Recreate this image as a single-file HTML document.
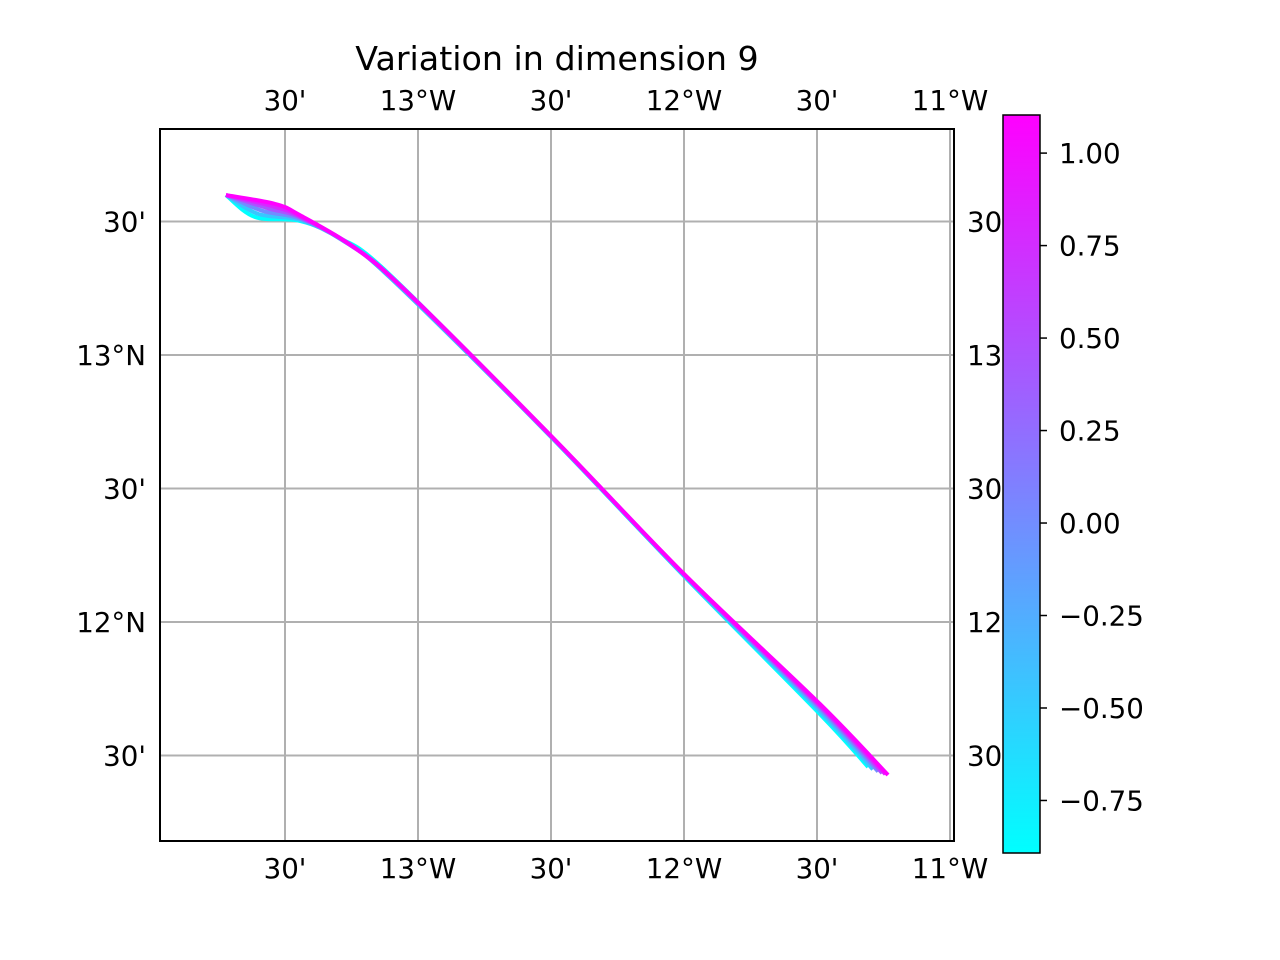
<!DOCTYPE html>
<html><head><meta charset="utf-8"><style>body{margin:0;background:#fff}svg{display:block;font-family:"DejaVu Sans","Liberation Sans",sans-serif}</style></head>
<body>
<svg id="c" width="1280" height="960"></svg>
<script>
const xTicks=[-13.5,-13,-12.5,-12,-11.5,-11];
const xTickLabels=["30'","13°W","30'","12°W","30'","11°W"];
const yTicks=[13.5,13,12.5,12,11.5];
const yTickLabels=["30'","13°N","30'","12°N","30'"];
const cbTicks=[1,0.75,0.5,0.25,0,-0.25,-0.5,-0.75];
const cbTickLabels=["1.00","0.75","0.50","0.25","0.00","−0.25","−0.50","−0.75"];
const trackValues=[-0.89,-0.45,0,0.45,0.8,1.1];
const trackLons=[
[-13.722,-13.613,-13.444,-13.293,-13.105,-12.5,-12.0,-11.489,-11.308],
[-13.722,-13.600,-13.444,-13.285,-13.100,-12.5,-12.0,-11.489,-11.290],
[-13.722,-13.585,-13.444,-13.270,-13.080,-12.5,-12.0,-11.489,-11.270],
[-13.722,-13.565,-13.444,-13.260,-13.060,-12.5,-12.0,-11.489,-11.255],
[-13.722,-13.550,-13.444,-13.250,-13.045,-12.5,-12.0,-11.489,-11.243],
[-13.722,-13.538,-13.444,-13.237,-13.030,-12.5,-12.0,-11.489,-11.233]];
const trackLats=[
[13.599,13.517,13.502,13.438,13.300,12.693,12.172,11.655,11.457],
[13.599,13.528,13.506,13.430,13.285,12.694,12.174,11.665,11.448],
[13.599,13.540,13.511,13.423,13.270,12.695,12.176,11.675,11.440],
[13.599,13.550,13.516,13.415,13.255,12.696,12.178,11.683,11.434],
[13.599,13.558,13.520,13.410,13.240,12.697,12.179,11.688,11.430],
[13.599,13.566,13.524,13.401,13.225,12.697,12.180,11.693,11.427]];
const NS="http://www.w3.org/2000/svg",svg=document.getElementById('c');
const X=v=>418+(v+13)*266, Y=v=>355-(v-13)*267;
const cbMin=-0.892,cbMax=1.103,CY=v=>853-(v-cbMin)/(cbMax-cbMin)*738;
function mk(t,a,p){const e=document.createElementNS(NS,t);for(const k in a)e.setAttribute(k,a[k]);(p||svg).appendChild(e);return e;}
function col(v){const f=(v-cbMin)/(cbMax-cbMin);return `rgb(${Math.round(255*f)},${Math.round(255*(1-f))},255)`;}
function smooth(pts){let d='M'+pts[0][0]+','+pts[0][1];
 for(let i=0;i<pts.length-1;i++){const p0=pts[Math.max(0,i-1)],p1=pts[i],p2=pts[i+1],p3=pts[Math.min(pts.length-1,i+2)];
  const c1=[p1[0]+(p2[0]-p0[0])/6,p1[1]+(p2[1]-p0[1])/6],c2=[p2[0]-(p3[0]-p1[0])/6,p2[1]-(p3[1]-p1[1])/6];
  d+=`C${c1[0]},${c1[1]} ${c2[0]},${c2[1]} ${p2[0]},${p2[1]}`;}return d;}
let t=mk('text',{x:557,y:70,'font-size':33.3,'text-anchor':'middle'});t.textContent='Variation in dimension 9';


const g=mk('g',{});


xTicks.forEach((v,i)=>{if(X(v)<954)mk('line',{x1:X(v),x2:X(v),y1:129,y2:841,stroke:'#b0b0b0','stroke-width':2},g);
 [100,868].forEach(y=>{const e=mk('text',{x:X(v),y:y+10,'font-size':27.7,'text-anchor':'middle'});e.textContent=xTickLabels[i];
 
 });});
yTicks.forEach((v,i)=>{mk('line',{x1:160,x2:954,y1:Y(v),y2:Y(v),stroke:'#b0b0b0','stroke-width':2},g);
 let e=mk('text',{x:146,y:Y(v)+10,'font-size':27.7,'text-anchor':'end'});e.textContent=yTickLabels[i];
 
 
 e=mk('text',{x:967,y:Y(v)+10,'font-size':27.7});e.textContent=yTickLabels[i];
 
 });
const tg=mk('g',{fill:'none','stroke-width':4,'stroke-linejoin':'round'});


trackValues.forEach((v,i)=>{const pts=trackLons[i].map((lo,j)=>[X(lo),Y(trackLats[i][j])]);
 const p=mk('path',{d:smooth(pts),stroke:col(v)},tg);
 
 });
const fr=mk('rect',{x:160,y:129,width:794,height:712,fill:'none',stroke:'#000','stroke-width':2});


mk('rect',{x:1002,y:100,width:278,height:780,fill:'#fff'});
const defs=mk('defs',{});const lg=mk('linearGradient',{id:'cb',x1:0,y1:1,x2:0,y2:0},defs);
mk('stop',{offset:0,'stop-color':'#00ffff'},lg);mk('stop',{offset:1,'stop-color':'#ff00ff'},lg);
const cb=mk('rect',{x:1003,y:115,width:37,height:738,fill:'url(#cb)',stroke:'#000','stroke-width':1.5});


cbTicks.forEach((v,i)=>{mk('line',{x1:1040,x2:1047,y1:CY(v),y2:CY(v),stroke:'#000','stroke-width':1.5});
 const e=mk('text',{x:1059,y:CY(v)+10,'font-size':27.7});e.textContent=cbTickLabels[i];
 
 });
</script>
</body></html>
